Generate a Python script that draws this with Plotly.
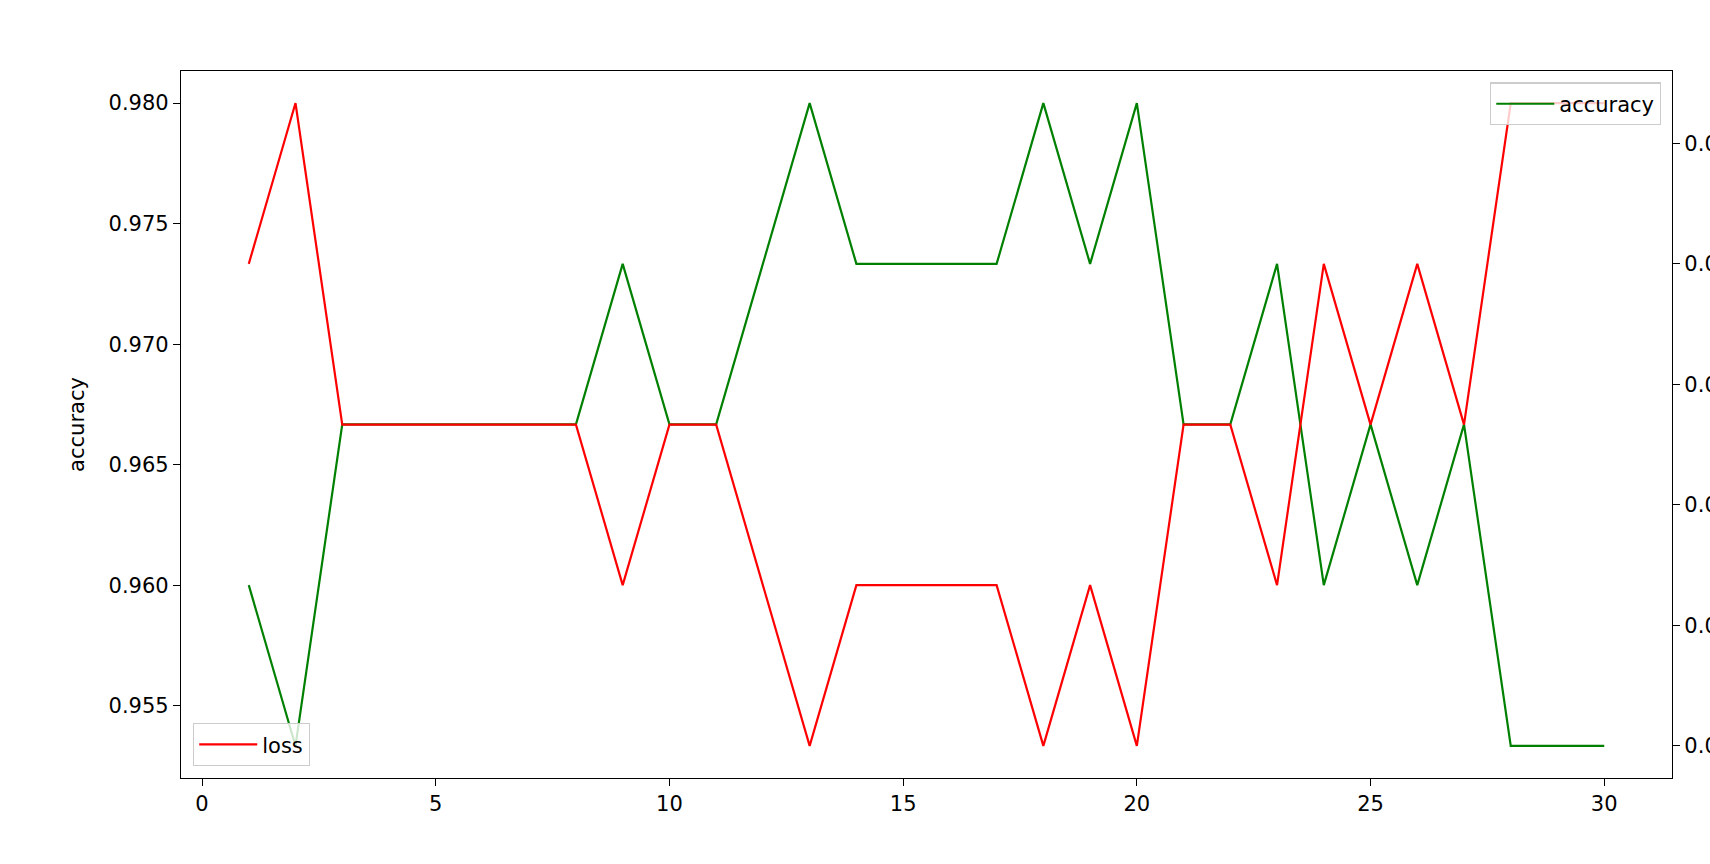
import plotly.graph_objects as go

_FONT = "DejaVu Sans, sans-serif"

epochs = list(range(1, 31))
accuracy = [0.96, 0.95333, 0.96667, 0.96667, 0.96667, 0.96667, 0.96667, 0.96667, 0.97333, 0.96667,
            0.96667, 0.97333, 0.98, 0.97333, 0.97333, 0.97333, 0.97333, 0.98, 0.97333, 0.98,
            0.96667, 0.96667, 0.97333, 0.96, 0.96667, 0.96, 0.96667, 0.95333, 0.95333, 0.95333]
loss = [0.04, 0.04667, 0.03333, 0.03333, 0.03333, 0.03333, 0.03333, 0.03333, 0.02667, 0.03333,
        0.03333, 0.02667, 0.02, 0.02667, 0.02667, 0.02667, 0.02667, 0.02, 0.02667, 0.02,
        0.03333, 0.03333, 0.02667, 0.04, 0.03333, 0.04, 0.03333, 0.04667, 0.04667, 0.04667]

acc_ticks = [0.955, 0.960, 0.965, 0.970, 0.975, 0.980]
loss_ticks = [0.020, 0.025, 0.030, 0.035, 0.040, 0.045]
x_ticks = [0, 5, 10, 15, 20, 25, 30]

fig = go.Figure()
fig.add_trace(go.Scatter(x=epochs, y=accuracy, name="accuracy", mode="lines",
                         line=dict(color="green", width=2.2), legend="legend"))
fig.add_trace(go.Scatter(x=epochs, y=loss, name="loss", mode="lines", yaxis="y2",
                         line=dict(color="red", width=2.2), legend="legend2"))

axis_common = dict(showline=True, linecolor="black", linewidth=1.3, showgrid=False,
                   zeroline=False, ticks="outside", ticklen=7, tickwidth=1.3, tickcolor="black",
                   automargin=False,
                   tickfont=dict(size=21, color="black", family=_FONT))

legend_common = dict(bgcolor="rgba(255,255,255,0.8)", bordercolor="#cccccc", borderwidth=1.3,
                     itemwidth=58, font=dict(size=21, family=_FONT))

fig.update_layout(
    width=1710, height=864,
    margin=dict(l=181, r=38, t=71, b=86),
    plot_bgcolor="white", paper_bgcolor="white",
    font=dict(family=_FONT, size=21, color="black"),
    xaxis=dict(range=[-0.45, 31.45], tickvals=x_ticks, mirror=True, **axis_common),
    yaxis=dict(range=[0.952, 0.981333], tickvals=acc_ticks, tickformat=".3f",
               title=dict(text="accuracy", font=dict(size=21), standoff=18), **axis_common),
    yaxis2=dict(range=[0.018667, 0.048], tickvals=loss_ticks, tickformat=".3f",
                overlaying="y", side="right", **axis_common),
    legend=dict(x=0.9926, y=0.984, xanchor="right", yanchor="top", **legend_common),
    legend2=dict(x=0.008, y=0.017, xanchor="left", yanchor="bottom", **legend_common),
    showlegend=True,
)

fig.write_html("out.html", config={"displayModeBar": False},
               post_script="document.body.style.margin='0';")
